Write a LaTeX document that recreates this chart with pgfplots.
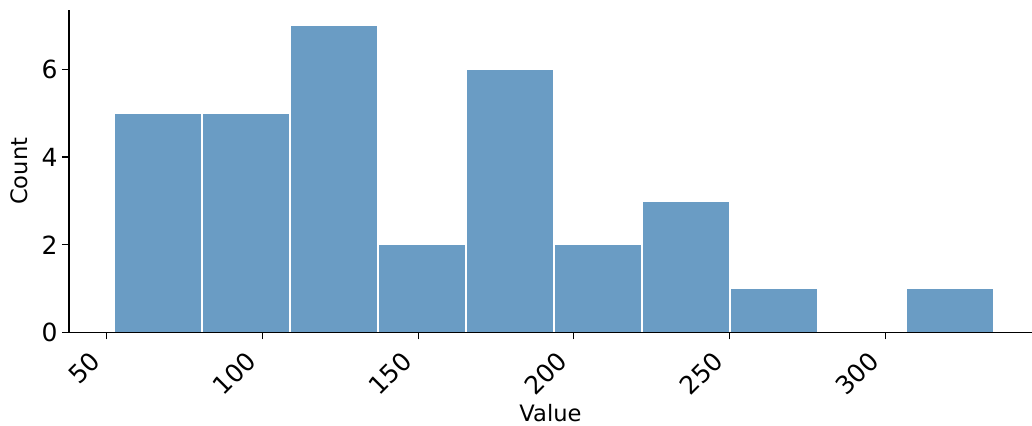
\documentclass[border=0pt]{standalone}
\usepackage{fontspec}
\setmainfont{DejaVu Sans}
\usepackage{pgfplots}
\pgfplotsset{compat=1.18}
\definecolor{barblue}{HTML}{6A9CC4}
\begin{document}
\begin{tikzpicture}
\useasboundingbox (-34.5pt,-46.35pt) rectangle (481.5pt,166.2pt);
\begin{axis}[
  at={(0,0)}, anchor=south west,
  scale only axis,
  width=481.5pt, height=161.1pt,
  xmin=37.9, xmax=347.1,
  ymin=0, ymax=7.35,
  axis x line*=bottom, axis y line*=left,
  axis line style={line width=0.6pt},
  tick align=outside,
  major tick length=3.5pt,
  tick style={black, line width=0.6pt},
  xtick={50,100,150,200,250,300},
  ytick={0,2,4,6},
  ticklabel style={font=\fontsize{12.5}{14}\selectfont},
  /pgf/number format/assume math mode=true,
  xticklabel style={xshift=-9pt, yshift=-3.5pt, rotate=45, anchor=north east, inner sep=1pt},
  yticklabel style={inner sep=2pt},
  xlabel={Value}, ylabel={Count},
  label style={font=\fontsize{11.3}{13}\selectfont},
  xlabel style={at={(axis description cs:0.5,0)}, anchor=base, yshift=-44.5pt},
  every axis y label/.append style={at={(ticklabel cs:0.5)}, yshift=1.5pt},
  axis on top,
  clip=false,
]
\addplot[ybar interval, fill=barblue, draw=white, line width=0.7pt] coordinates {
(52.3,5) (80.56,5) (108.82,7) (137.08,2) (165.34,6) (193.6,2) (221.86,3) (250.12,1) (278.38,0) (306.64,1) (334.9,1)
};
\end{axis}
\end{tikzpicture}
\end{document}
